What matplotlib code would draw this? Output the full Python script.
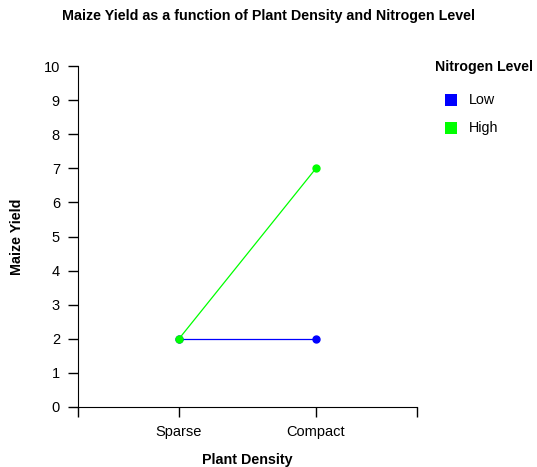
import matplotlib
matplotlib.use('Agg')
import matplotlib.pyplot as plt
from matplotlib.patches import Rectangle

plt.rcParams['font.family'] = ['Liberation Sans', 'DejaVu Sans']

densities = ['Sparse', 'Compact']
levels = ['Low', 'High']
yield_low = [2, 2]
yield_high = [2, 7]
colors = ['#0000ff', '#00ff00']
yticks = list(range(0, 11))

fig = plt.figure(figsize=(5.37, 4.67), dpi=100, facecolor='white')
ax = fig.add_axes((78/537, 60/467, 339/537, 341/467))

xpos = list(range(len(densities)))
for vals, col in zip([yield_low, yield_high], colors):
  ax.plot(xpos, vals, color=col, lw=0.9, marker='o', ms=5, mec=col, mfc=col, zorder=3)

xmin, xmax = -101/137, 1 + 101/137
ax.set_xlim(xmin, xmax)
ax.set_ylim(0, 10)
ax.set_xticks([xmin] + xpos + [xmax])
ax.set_xticklabels([''] + densities + [''])
ax.set_yticks(yticks)
ax.tick_params(length=7, width=1, labelsize=10.5, pad=6, colors='black')
ax.tick_params(axis='y', pad=6)
ax.spines['top'].set_visible(False)
ax.spines['right'].set_visible(False)
ax.set_xlabel('Plant Density', fontsize=10.3, fontweight='bold', labelpad=10)
ax.set_ylabel('Maize Yield', fontsize=10.3, fontweight='bold', labelpad=14)

fig.text(0.5*(61+477)/537, 1 - 16/467, 'Maize Yield as a function of Plant Density and Nitrogen Level',
         ha='center', va='center', fontsize=10.3, fontweight='bold')

# legend
fig.text(435/537, 1 - 67/467, 'Nitrogen Level', ha='left', va='center', fontsize=10.2, fontweight='bold')
for i, (lab, col) in enumerate(zip(levels, colors)):
  yc = 100 + i*28
  fig.patches.append(Rectangle((445/537, 1 - (yc+6)/467), 12/537, 12/467,
                               transform=fig.transFigure, facecolor=col, edgecolor='none'))
  fig.text(469/537, 1 - yc/467, lab, ha='left', va='center', fontsize=10.3)

fig.savefig('out.png', dpi=100)
